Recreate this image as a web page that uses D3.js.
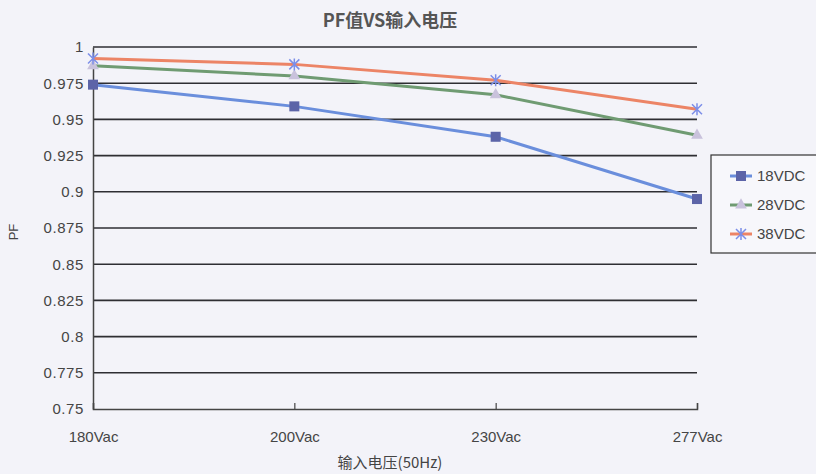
<!DOCTYPE html>
<html><head><meta charset="utf-8">
<script src="https://cdn.jsdelivr.net/npm/d3@7"></script>
<style>body{margin:0;background:#f3f3f9;}svg{display:block;}</style>
</head><body>
<svg id="c" width="816" height="474"></svg>
<script>
const categories = ["180Vac","200Vac","230Vac","277Vac"];
const s18 = [0.974, 0.959, 0.938, 0.895];
const s28 = [0.987, 0.980, 0.967, 0.939];
const s38 = [0.992, 0.988, 0.977, 0.957];
const seriesNames = ["18VDC","28VDC","38VDC"];
const yTicks = [0.75,0.775,0.8,0.825,0.85,0.875,0.9,0.925,0.95,0.975,1];
const yTickLabels = ["0.75","0.775","0.8","0.825","0.85","0.875","0.9","0.925","0.95","0.975","1"];

const svg = d3.select("#c");
const m = {l:93, r:697, t:47, b:409};
const x = d3.scalePoint().domain(categories).range([m.l, m.r]).padding(0);
const y = d3.scaleLinear().domain([0.75,1]).range([m.b, m.t]);

svg.append("rect").attr("width",816).attr("height",474).attr("fill","#f3f3f9");

// gridlines
svg.append("g").selectAll("line").data(yTicks.slice(1)).join("line")
  .attr("x1",m.l).attr("x2",m.r).attr("y1",d=>y(d)).attr("y2",d=>y(d))
  .attr("stroke","#2e2e33").attr("stroke-width",1.6);

// y axis
const yAxis = d3.axisLeft(y).tickValues(yTicks).tickFormat((d,i)=>yTickLabels[i]).tickSize(0).tickPadding(9);
const gy = svg.append("g").attr("transform",`translate(${m.l},0)`).call(yAxis);
gy.select(".domain").attr("stroke","#444").attr("stroke-width",1.5);
gy.selectAll("text").attr("font-family","Liberation Sans, Arial, sans-serif").attr("font-size",15)
  .attr("letter-spacing","0.6px").attr("fill","#454545");

// x axis
const xAxis = d3.axisBottom(x).tickSize(-6).tickPadding(22);
const gx = svg.append("g").attr("transform",`translate(0,${m.b})`).call(xAxis);
gx.select(".domain").attr("stroke","#444").attr("stroke-width",1.5);
gx.selectAll(".tick line").attr("stroke","#444").attr("stroke-width",1.2);
gx.selectAll("text").attr("font-family","Liberation Sans, Arial, sans-serif").attr("font-size",15).attr("fill","#454545");

const colors = ["#6a8edc","#6f9b72","#ec8466"];
const markerColors = ["#5c64a8","#c9c2dc","#7c8ee8"];
const data = [s18, s28, s38];
const line = d3.line().x((d,i)=>x(categories[i])).y(d=>y(d));

data.forEach((s,k)=>{
  svg.append("path").datum(s).attr("d",line).attr("fill","none")
    .attr("stroke",colors[k]).attr("stroke-width",3);
});

function marker(g,k,cx,cy){
  if(k===0){
    g.append("rect").attr("x",cx-5).attr("y",cy-5).attr("width",10).attr("height",10).attr("fill",markerColors[0]);
  } else if(k===1){
    g.append("path").attr("d",d3.symbol(d3.symbolTriangle,60)()).attr("transform",`translate(${cx},${cy})`).attr("fill",markerColors[1]);
  } else {
    const p = d3.path();
    [[-5,-5,5,5],[-5,5,5,-5],[0,-6,0,6]].forEach(a=>{p.moveTo(cx+a[0],cy+a[1]);p.lineTo(cx+a[2],cy+a[3]);});
    g.append("path").attr("d",p.toString()).attr("stroke",markerColors[2]).attr("stroke-width",1.5).attr("fill","none");
  }
}
data.forEach((s,k)=>{
  const g = svg.append("g");
  s.forEach((v,i)=>marker(g,k,x(categories[i]),y(v)));
});

// title
svg.append("text").attr("x",390).attr("y",27).attr("text-anchor","middle")
  .attr("font-family","Noto Sans CJK SC, sans-serif").attr("font-size",18).attr("font-weight","bold").attr("fill","#555")
  .text("PF值VS输入电压");
svg.append("text").attr("x",390).attr("y",468).attr("text-anchor","middle")
  .attr("font-family","Noto Sans CJK SC, sans-serif").attr("font-size",15).attr("fill","#444")
  .text("输入电压(50Hz)");
svg.append("text").attr("transform","translate(18,232) rotate(-90)").attr("text-anchor","middle")
  .attr("font-family","Liberation Sans, Arial, sans-serif").attr("font-size",13).attr("fill","#444")
  .text("PF");

// legend
const lg = svg.append("g");
lg.append("rect").attr("x",711).attr("y",155).attr("width",110).attr("height",98)
  .attr("fill","#f7f7fb").attr("stroke","#333").attr("stroke-width",1.2);
seriesNames.forEach((n,k)=>{
  const yy = 176 + k*29;
  lg.append("line").attr("x1",730).attr("x2",752).attr("y1",yy).attr("y2",yy).attr("stroke",colors[k]).attr("stroke-width",3);
  marker(lg,k,741,yy);
  lg.append("text").attr("x",757).attr("y",yy+5).attr("font-family","Liberation Sans, Arial, sans-serif")
    .attr("font-size",15).attr("fill","#444").text(n);
});
</script>
</body></html>
